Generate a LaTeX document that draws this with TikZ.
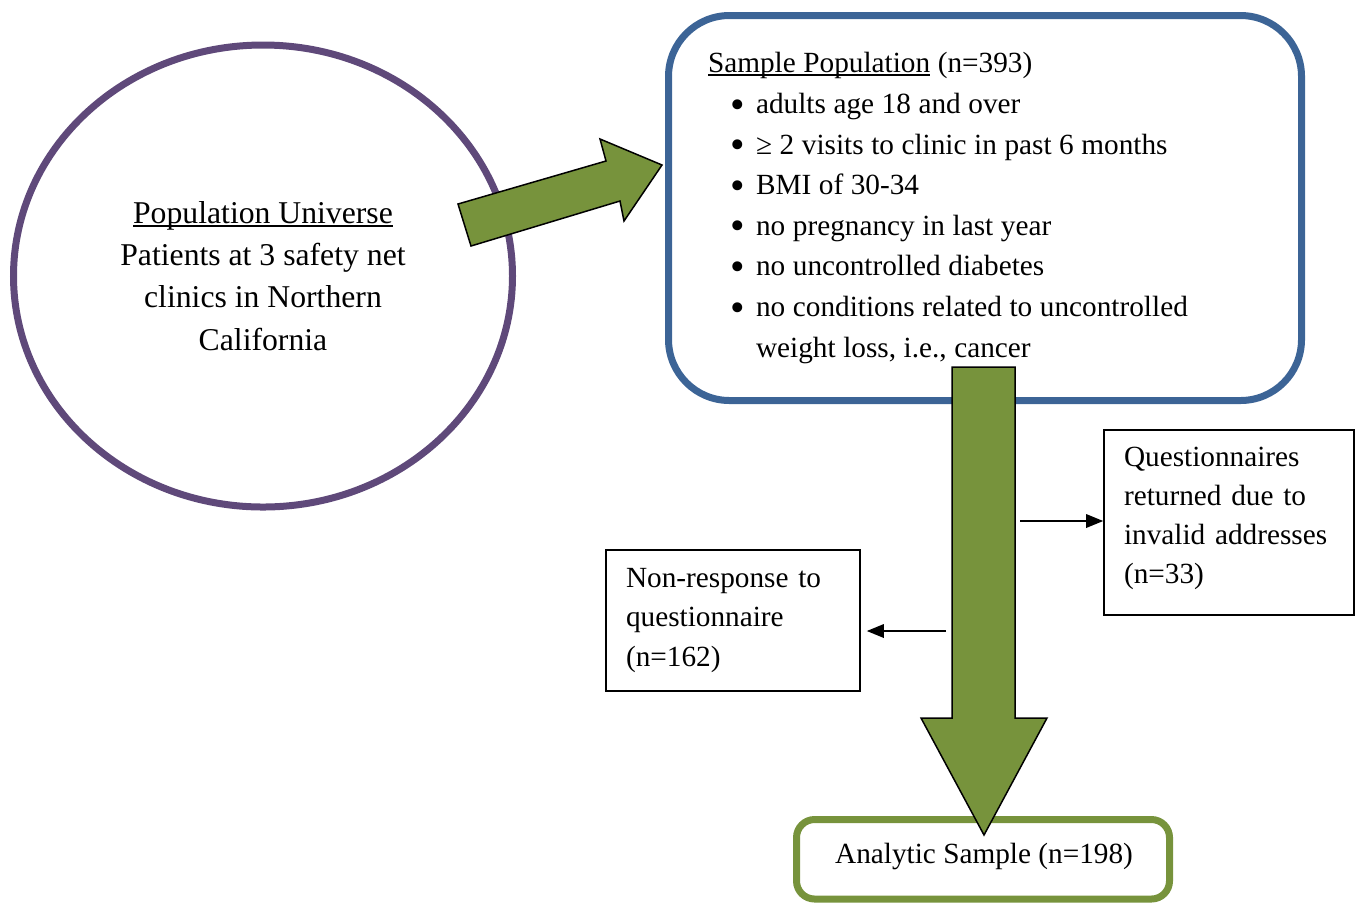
\documentclass[tikz,border=0pt]{standalone}
\usepackage{fontspec}
\setmainfont{Liberation Serif}
\usetikzlibrary{shapes.geometric,arrows.meta}
\definecolor{univpurple}{HTML}{5F497A}
\definecolor{sampblue}{HTML}{3C6496}
\definecolor{flowgreen}{HTML}{77933C}
\newlength{\unitpx}\setlength{\unitpx}{0.41pt}
% underline drawn close to the baseline, crossing descenders
\newcommand{\lowul}[1]{\setbox0\hbox{#1}\rlap{\rule[-1.3pt]{\wd0}{0.65pt}}\box0\relax}
% narrower word spaces for the criteria list
\newcommand{\tightspaces}{\spaceskip=3.1pt\relax}
% one criterion line of the sample list, with its bullet hanging to the left
\newcommand{\crit}{\hspace*{19.7pt}\llap{\raisebox{-1.9pt}{\fontsize{17pt}{17pt}\selectfont\textbullet}\hspace{4.6pt}}}
\begin{document}
\begin{tikzpicture}[x=0.41pt,y=-0.41pt,
  heavystroke/.style={line width=7\unitpx},
  blockarrow/.style={fill=flowgreen,draw=black,line width=1.5\unitpx,line join=miter},
  notebox/.style={draw=black,line width=1.5\unitpx,rectangle,align=left,
    font=\fontsize{12pt}{16pt}\selectfont,inner ysep=0pt},
  thinarrow/.style={draw=black,line width=2\unitpx,-{Triangle[length=7pt,width=5.5pt]}}]
\useasboundingbox (0,0) rectangle (1359,905);

% population universe
\node[ellipse, draw=univpurple, heavystroke, minimum width=499\unitpx,
  minimum height=462\unitpx, align=center,
  font=\fontsize{13pt}{17.3pt}\selectfont] (univ) at (263,276)
  {\lowul{Population Universe}\\Patients at 3 safety net\\clinics in Northern\\California};

% sample population with inclusion criteria
\node[draw=sampblue, heavystroke, rounded corners=25pt, minimum width=633\unitpx,
  minimum height=385\unitpx, text width=554\unitpx, inner xsep=39.5\unitpx,
  align=left, font=\fontsize{12pt}{16.65pt}\selectfont] (samp) at (985,208)
  {\tightspaces\lowul{Sample Population} (n=393)\\
   \crit adults age 18 and over\\
   \crit ≥ 2 visits to clinic in past 6 months\\
   \crit BMI of 30-34\\
   \crit no pregnancy in last year\\
   \crit no uncontrolled diabetes\\
   \crit no conditions related to uncontrolled\\
   \hspace*{19.7pt}weight loss, i.e., cancer};

% block arrow from universe to sample
\draw[blockarrow] (458,204) -- (606,161) -- (600,139) -- (662,165)
  -- (624,221) -- (620,201) -- (471,246) -- cycle;

% analytic sample
\node[draw=flowgreen, heavystroke, rounded corners=7.4pt, minimum width=373\unitpx,
  minimum height=79.5\unitpx] (anal) at (983,859.25) {};
\node[font=\fontsize{12pt}{14pt}\selectfont, anchor=base] (analtxt) at (984,863)
  {Analytic Sample (n=198)};

% block arrow from sample down to analytic sample
\draw[blockarrow] (952,367) -- (1015,367) -- (1015,718) -- (1047,718)
  -- (984,835) -- (921,718) -- (952,718) -- cycle;

% exclusions
\node[notebox, minimum width=250\unitpx, minimum height=185\unitpx,
  text width=210\unitpx, inner xsep=20\unitpx] (ret) at (1229,522.5)
  {Questionnaires\\returned due to\\invalid addresses\\(n=33)\vspace*{8\unitpx}};
\node[notebox, minimum width=254\unitpx, minimum height=141\unitpx,
  text width=214\unitpx, inner xsep=20\unitpx] (nonr) at (733,620.5)
  {Non-response to\\questionnaire\\(n=162)};

\coordinate (shaftR) at (1020,521);
\coordinate (shaftL) at (946,631);
\draw[thinarrow] (shaftR) -- (ret.west |- shaftR);
\draw[thinarrow, shorten >=6\unitpx] (shaftL) -- (nonr.east |- shaftL);
\end{tikzpicture}
\end{document}
